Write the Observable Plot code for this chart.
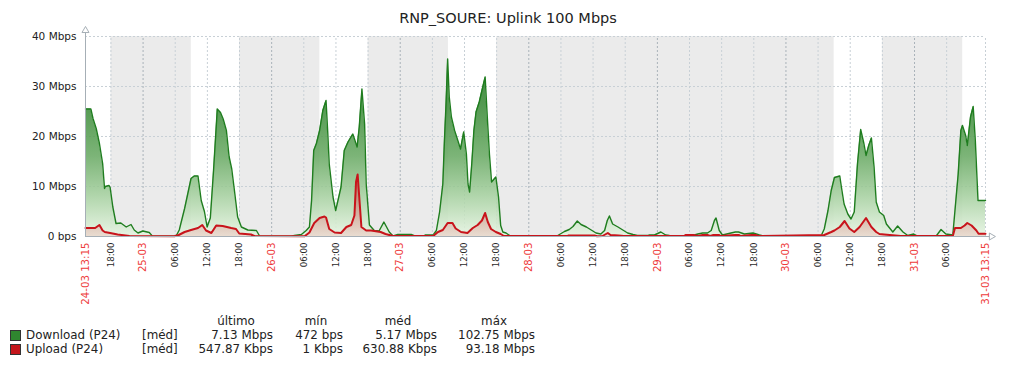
<!DOCTYPE html>
<html><head><meta charset="utf-8">
<script src="https://cdn.jsdelivr.net/npm/d3@7"></script>
<script src="https://cdn.jsdelivr.net/npm/@observablehq/plot@0.6"></script>
<style>
body{margin:0;background:#fff;font-family:"DejaVu Sans",sans-serif;}
#wrap{width:1016px;height:368px;position:relative;overflow:hidden}
#title{height:14px;padding-top:10px;line-height:17px;text-align:center;font-size:14.5px;color:#222;white-space:nowrap}
#chart{height:286px}
#legend{position:relative;height:58px;font-size:11.9px;color:#222}
#legend span{position:absolute;white-space:nowrap;line-height:14px}
#legend .sw{width:9px;height:9px;border:1px solid #333;}
</style></head><body>
<div id="wrap"><div id="title">RNP_SOURE: Uplink 100 Mbps</div><div id="chart"></div><div id="legend"></div></div>
<script>
// ---- data (hours after 24-03 13:15, Mbps) ----
const downloadHours = [0,1,1.4,2.0,2.6,3.2,3.55,3.7,4.4,4.6,5.1,5.7,6.6,7.6,8.5,9.1,9.8,10.7,11.9,12.5,16.9,17.5,18.5,19.1,19.7,20.3,21.0,21.6,22.2,22.7,23.3,23.9,24.6,25.2,25.7,26.3,26.8,27.3,27.8,28.4,29.1,30.3,31.9,32.5,38.4,39.0,40.3,41.2,41.8,42.2,42.6,43.1,43.7,44.3,44.9,45.2,45.5,46.2,46.7,47.7,48.3,49.0,49.9,50.7,51.1,51.6,52.1,52.4,53.0,53.9,54.8,55.7,56.2,56.7,57.4,58.3,60.8,61.6,63.1,63.4,64.9,65.5,66.1,66.7,67.0,67.3,67.6,67.9,68.3,68.9,69.5,70.0,70.6,71.1,71.4,71.7,72.1,72.5,72.9,73.5,74.0,74.6,75.0,75.4,75.8,76.6,77.1,77.5,77.9,78.5,79.3,88.0,89.4,90.3,91.0,91.8,92.5,93.5,94.4,95.3,96.2,96.9,97.4,97.8,98.4,99.4,100.3,101.2,102.2,103.0,105.0,105.3,106.2,107.4,108.3,109.0,111.8,113.0,114.3,115.2,116.1,116.8,117.4,117.7,118.3,118.9,120.5,121.3,121.9,123.0,124.6,125.8,126.5,137.3,137.9,138.6,139.2,139.8,140.8,141.1,141.6,142.3,142.9,143.5,144.1,144.7,145.3,145.7,146.2,146.7,147.2,147.6,148.2,149.0,149.5,150.7,151.6,152.6,153.5,154.6,155.3,158.8,159.7,160.6,161.9,162.3,162.9,163.4,163.7,164.3,164.6,165.2,165.7,166.1,166.6,168];
const downloadMbps = [25.5,25.5,23.6,21.6,18.6,14.6,9.6,10.0,10.2,9.8,5.9,2.6,2.7,1.9,2.4,1.3,0.7,1.1,0.8,0.07,0.05,1.3,5.6,8.6,11.6,12.1,12.1,7.2,5.0,1.9,3.7,13.2,25.5,24.8,23.5,21.2,16.0,13.5,9.2,3.9,1.9,1.3,1.2,0.1,0.05,0.2,0.4,1.2,1.9,7.2,17.2,18.6,21.2,25.2,27.2,21.2,14.5,7.9,5.2,9.9,17.2,18.9,20.5,17.9,21.9,29.5,22.5,10.5,2.3,1.2,1.1,2.9,1.9,0.9,0.1,0.4,0.4,0.05,0.05,0.3,0.3,1.2,4.9,10.5,19.2,26.5,35.5,27.9,23.9,21.2,19.2,17.5,20.9,16.5,10.5,8.9,14.5,21.2,24.9,26.9,29.2,31.9,23.9,16.5,10.9,11.9,7.9,2.2,0.9,0.7,0.1,0.1,1.0,1.4,2.0,3.1,2.4,1.9,1.3,0.7,0.5,1.2,3.2,4.1,2.5,1.9,1.3,0.7,0.4,0.2,0.2,0.3,0.3,0.9,0.3,0.2,0.1,0.1,0.5,0.7,0.7,1.2,3.2,3.7,1.2,0.3,0.7,0.9,0.9,0.5,0.7,0.3,0.1,0.1,1.5,5.2,9.2,11.8,12.1,9.9,6.5,4.5,3.5,4.9,14.5,21.4,18.6,16.2,18.2,19.7,13.9,6.9,4.9,4.2,2.5,0.9,2.1,0.9,0.2,0.5,0.1,0.1,1.4,0.5,0.3,5.2,12.5,21.2,22.2,20.2,18.2,23.9,26.0,19.2,7.2,7.2];
const uploadHours = [0,1.8,2.6,3.2,3.6,4.6,6.0,8.2,16.6,17.4,18.5,19.7,21.0,21.8,22.5,23.5,24.4,25.6,27.2,28.1,28.7,30.9,31.5,40.9,41.8,42.7,43.7,44.6,44.9,45.5,46.5,47.7,48.7,49.6,50.2,50.5,50.8,51.1,51.5,52.4,53.3,55.1,56.0,57.4,64.9,65.8,66.7,67.6,68.5,69.1,70.1,71.3,72.3,73.2,74.0,74.6,75.1,75.7,76.6,77.5,78.1,90.0,90.2,95.0,95.5,96.5,97.0,97.5,98.0,99.5,100.5,111.8,112.0,113.5,114.3,115.2,116.1,116.6,117.2,118.3,118.6,121.3,122.0,122.3,124.3,125.2,125.5,137.9,139.2,139.8,140.8,141.7,142.6,143.5,144.5,145.7,146.7,147.6,148.2,149.1,152.2,161.9,162.3,163.4,164.1,164.6,165.4,166.3,166.7,168];
const uploadMbps = [1.7,1.7,2.3,1.2,0.9,0.7,0.4,0.1,0.05,0.3,0.9,1.3,1.7,2.3,1.2,0.7,2.2,2.1,1.7,1.5,0.6,0.4,0.1,0.05,0.8,2.7,3.7,4.0,3.8,1.5,0.8,0.7,1.9,2.3,4.2,10.9,12.4,7.9,1.9,1.2,1.2,0.9,0.5,0.1,0.1,0.9,1.3,2.7,2.7,1.6,0.9,0.7,1.7,2.3,3.2,4.7,2.9,1.5,0.9,0.5,0.1,0.1,0.2,0.2,0.05,0.1,0.4,0.7,0.3,0.2,0.1,0.1,0.3,0.3,0.1,0.3,0.3,0.1,0.3,0.3,0.1,0.3,0.3,0.1,0.3,0.3,0.1,0.3,0.9,1.2,1.9,3.1,1.6,0.9,1.9,3.7,1.9,0.9,0.5,0.4,0.1,0.1,1.7,1.7,2.2,2.7,2.2,1.2,0.55,0.55];
const nightBands = [
  ["2020-03-24T18:00Z","2020-03-25T09:00Z"],
  ["2020-03-25T18:00Z","2020-03-26T09:00Z"],
  ["2020-03-26T18:00Z","2020-03-27T09:00Z"],
  ["2020-03-27T18:00Z","2020-03-30T09:00Z"],
  ["2020-03-30T18:00Z","2020-03-31T09:00Z"]
];
const yTicks = [0,10,20,30,40];
const yTickLabels = ["0 bps","10 Mbps","20 Mbps","30 Mbps","40 Mbps"];
const edgeLabels = ["24-03 13:15","31-03 13:15"];
const legendNames = ["Download (P24)","Upload (P24)"];
const legendColors = ["#2f862f","#c4161c"];
const legendFunc = ["[méd]","[méd]"];
const legendHeaders = ["último","mín","méd","máx"];
const lastVals = ["7.13 Mbps","547.87 Kbps"];
const minVals = ["472 bps","1 Kbps"];
const avgVals = ["5.17 Mbps","630.88 Kbps"];
const maxVals = ["102.75 Mbps","93.18 Mbps"];

// ---- build ----
const T0 = Date.UTC(2020,2,24,13,15);
const toDate = h => new Date(T0 + h*3600e3);
const download = downloadHours.map((h,i)=>({t:toDate(h), v:downloadMbps[i]}));
const upload = uploadHours.map((h,i)=>({t:toDate(h), v:uploadMbps[i]}));
const bands = nightBands.map(([a,b])=>({a:new Date(a), b:new Date(b)}));
const sixH = d3.utcHour.every(6).range(toDate(0), toDate(166));
const hourTicks = sixH.filter(d=>d.getUTCHours()!==0);
const dateTicks = sixH.filter(d=>d.getUTCHours()===0);
const edgeTicks = [toDate(0), toDate(168)];

const gridLight = "#c8d0d6", gridDark = "#a9b2b9", axisCol = "#a6afb6";
const plot = Plot.plot({
  width:1016, height:286,
  marginLeft:85, marginRight:31, marginTop:12, marginBottom:74,
  style:{fontFamily:"DejaVu Sans, sans-serif", background:"transparent", overflow:"visible"},
  x:{type:"utc", domain:[toDate(0), toDate(168)]},
  y:{domain:[0,40]},
  marks:[
    Plot.rect(bands,{x1:"a", x2:"b", y1:0, y2:40, fill:"#ebebeb"}),
    Plot.ruleY([10,20,30,40],{x1:toDate(0), x2:toDate(168), stroke:gridLight, strokeDasharray:"2,2"}),
    Plot.ruleX(hourTicks,{y1:0, y2:40, stroke:gridLight, strokeDasharray:"2,2"}),
    Plot.ruleX(dateTicks,{y1:0, y2:40, stroke:gridDark, strokeDasharray:"2,2"}),
    Plot.ruleX([toDate(168)],{y1:0, y2:40, stroke:gridLight, strokeDasharray:"2,2"}),
    Plot.areaY(download,{x:"t", y:"v", fill:"url(#gDown)", fillOpacity:0.88}),
    Plot.lineY(download,{x:"t", y:"v", stroke:"#1f7d1f", strokeWidth:1.4}),
    Plot.areaY(upload,{x:"t", y:"v", fill:"url(#gUp)", fillOpacity:0.9}),
    Plot.lineY(upload,{x:"t", y:"v", stroke:"#c8141b", strokeWidth:2}),
    Plot.ruleX([toDate(0)],{y1:0, y2:41, stroke:axisCol}),
    Plot.ruleY([0],{x1:toDate(0), x2:toDate(168.8), stroke:axisCol}),
    Plot.dot([0],{x:toDate(0), y:41.2, symbol:"triangle", r:2.6, stroke:axisCol, fill:"white", strokeWidth:1}),
    Plot.dot([0],{x:toDate(169.1), y:0, symbol:"triangle", r:2.6, rotate:90, stroke:axisCol, fill:"white", strokeWidth:1}),
    Plot.axisY(yTicks,{tickFormat:(d)=>yTickLabels[yTicks.indexOf(d)], tickSize:0, tickPadding:9, fontSize:10.5, fill:"#222", label:null}),
    Plot.axisX(hourTicks,{tickFormat:d3.utcFormat("%H:%M"), tickRotate:-90, tickSize:0, tickPadding:6, fontSize:8.6, fill:"#2a2a2a", label:null}),
    Plot.axisX(dateTicks,{tickFormat:d3.utcFormat("%d-%m"), tickRotate:-90, tickSize:0, tickPadding:6, fontSize:10.2, fill:"#ee3b3b", label:null}),
    Plot.axisX(edgeTicks,{tickFormat:(d)=>edgeLabels[+d===+edgeTicks[0]?0:1], tickRotate:-90, tickSize:0, tickPadding:6, fontSize:10.2, fill:"#ee3b3b", label:null})
  ]
});
const y = plot.scale("y");
const yTop = y.apply(40), yBot = y.apply(0);
const ns = "http://www.w3.org/2000/svg";
const defs = document.createElementNS(ns,"defs");
defs.innerHTML = `
<linearGradient id="gDown" gradientUnits="userSpaceOnUse" x1="0" y1="${yTop}" x2="0" y2="${yBot}">
 <stop offset="0" stop-color="#1a701a"/><stop offset="0.35" stop-color="#3d8c3a"/>
 <stop offset="0.6" stop-color="#6aaa65"/><stop offset="0.8" stop-color="#a6d0a0"/>
 <stop offset="1" stop-color="#e6f4e2"/></linearGradient>
<linearGradient id="gUp" gradientUnits="userSpaceOnUse" x1="0" y1="${yTop}" x2="0" y2="${yBot}">
 <stop offset="0" stop-color="#7a0c0c"/><stop offset="0.6" stop-color="#a5473a"/>
 <stop offset="0.82" stop-color="#c79383"/><stop offset="1" stop-color="#e9d9ce"/></linearGradient>`;
plot.insertBefore(defs, plot.firstChild);
document.getElementById("chart").appendChild(plot);

// ---- legend ----
const L = document.getElementById("legend");
function span(text, left, top, right){
  const s = document.createElement("span");
  s.textContent = text;
  s.style.top = top+"px";
  if (right!=null) s.style.right = (1016-right)+"px"; else s.style.left = left+"px";
  L.appendChild(s); return s;
}
const headerCenters = [236,316,398,494];
legendHeaders.forEach((h,i)=>{
  const s = span(h, 0, 4);
  s.style.left = (headerCenters[i]-60)+"px"; s.style.width="120px"; s.style.textAlign="center";
});
const rowTops = [18,32];
const colRights = [273,343,437,535];
legendNames.forEach((n,i)=>{
  const sw = document.createElement("span"); sw.className="sw";
  sw.style.left="10px"; sw.style.top=(rowTops[i]+2)+"px"; sw.style.background=legendColors[i];
  L.appendChild(sw);
  span(n, 26, rowTops[i]);
  span(legendFunc[i], 142, rowTops[i]);
  [lastVals,minVals,avgVals,maxVals].forEach((arr,j)=>span(arr[i], null, rowTops[i], colRights[j]));
});
</script>
</body></html>
